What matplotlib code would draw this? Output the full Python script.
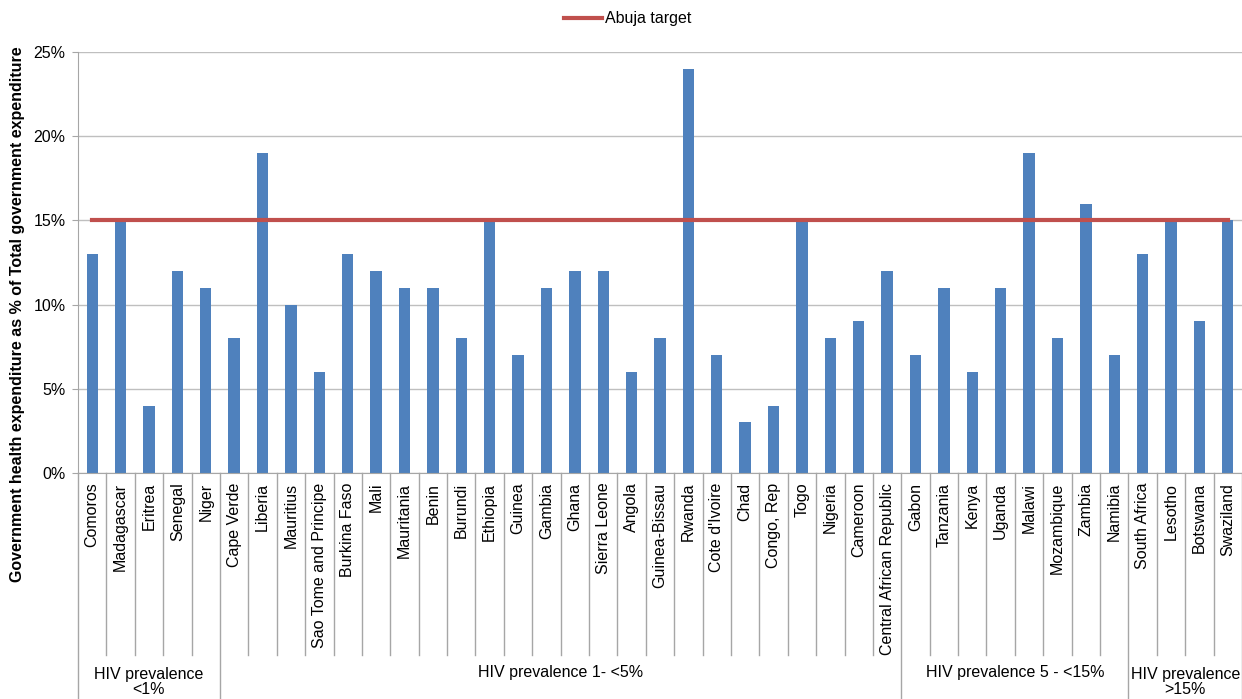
import matplotlib
matplotlib.use("Agg")
import matplotlib.pyplot as plt
import matplotlib.transforms as mtransforms
from matplotlib.ticker import FuncFormatter

plt.rcParams['font.family'] = ['Liberation Sans', 'DejaVu Sans']

countries = ["Comoros", "Madagascar", "Eritrea", "Senegal", "Niger",
             "Cape Verde", "Liberia", "Mauritius", "Sao Tome and Principe", "Burkina Faso",
             "Mali", "Mauritania", "Benin", "Burundi", "Ethiopia", "Guinea", "Gambia",
             "Ghana", "Sierra Leone", "Angola", "Guinea-Bissau", "Rwanda", "Cote d'Ivoire",
             "Chad", "Congo, Rep", "Togo", "Nigeria", "Cameroon", "Central African Republic",
             "Gabon", "Tanzania", "Kenya", "Uganda", "Malawi", "Mozambique", "Zambia", "Namibia",
             "South Africa", "Lesotho", "Botswana", "Swaziland"]
values = [13, 15, 4, 12, 11,
          8, 19, 10, 6, 13, 12, 11, 11, 8, 15, 7, 11, 12, 12, 6, 8, 24, 7, 3, 4, 15, 8, 9, 12,
          7, 11, 6, 11, 19, 8, 16, 7,
          13, 15, 9, 15]
abuja_target = [15] * len(countries)
group_labels = ["HIV prevalence\n<1%", "HIV prevalence 1- <5%", "HIV prevalence 5 - <15%", "HIV prevalence\n>15%"]
group_sizes = [5, 24, 8, 4]
y_ticks = [0, 5, 10, 15, 20, 25]

FS = 11.5
W, H = 1242, 699
fig = plt.figure(figsize=(W / 100, H / 100), dpi=100)
left, right, top, bottom = 78, 1242, 52, 473
ax = fig.add_axes([left / W, 1 - bottom / H, (right - left) / W, (bottom - top) / H])

x = list(range(len(countries)))
ax.bar(x, values, width=0.4, color="#4F81BD", zorder=2)
ax.plot(x, abuja_target, color="#C0504D", lw=3, zorder=3, label="Abuja target")

ax.set_xlim(-0.5, len(countries) - 0.5)
ax.set_ylim(0, 25)
ax.set_yticks(y_ticks)
ax.yaxis.set_major_formatter(FuncFormatter(lambda v, p: f"{int(v)}%"))
ax.grid(axis="y", color="#BFBFBF", lw=1, zorder=0)
for s in ["top", "right"]:
    ax.spines[s].set_visible(False)
for s in ["left", "bottom"]:
    ax.spines[s].set_color("#A6A6A6")
ax.tick_params(axis="y", length=4, color="#A6A6A6", labelsize=FS, pad=5)
ax.tick_params(axis="x", length=0)
ax.set_xticks(x)
ax.set_xticklabels(countries, rotation=90, fontsize=FS, va="top", ha="center")
ax.tick_params(axis="x", pad=7)

# Separators
trans = mtransforms.blended_transform_factory(ax.transData, ax.transAxes)
axh = bottom - top
cat_bot = -(655 - bottom) / axh
grp_bot = -(H - bottom) / axh
group_edges = [0]
for g in group_sizes:
    group_edges.append(group_edges[-1] + g)
for i in range(len(countries) + 1):
    xe = i - 0.5
    if i in group_edges:
        ax.plot([xe, xe], [0, grp_bot - 0.02], color="#A6A6A6", lw=1, transform=trans, clip_on=False)
    else:
        ax.plot([xe, xe], [0, cat_bot], color="#A6A6A6", lw=1, transform=trans, clip_on=False)

for lab, a, b in zip(group_labels, group_edges[:-1], group_edges[1:]):
    cx = (a + b - 1) / 2
    yc = 673 if "\n" not in lab else 682
    ax.text(cx, -(yc - bottom) / axh, lab, transform=trans, ha="center", va="center",
            fontsize=FS, linespacing=1.05, clip_on=False)

fig.text(18 / W, 1 - 314 / H, "Government health expenditure as % of Total government expenditure",
         rotation=90, ha="center", va="center", fontsize=FS, fontweight="bold")

leg = fig.legend(loc="center", bbox_to_anchor=(628 / W, 1 - 19 / H), frameon=False,
                 fontsize=FS, handlelength=2.35, handletextpad=0.2)

fig.savefig("out.png", dpi=100)
